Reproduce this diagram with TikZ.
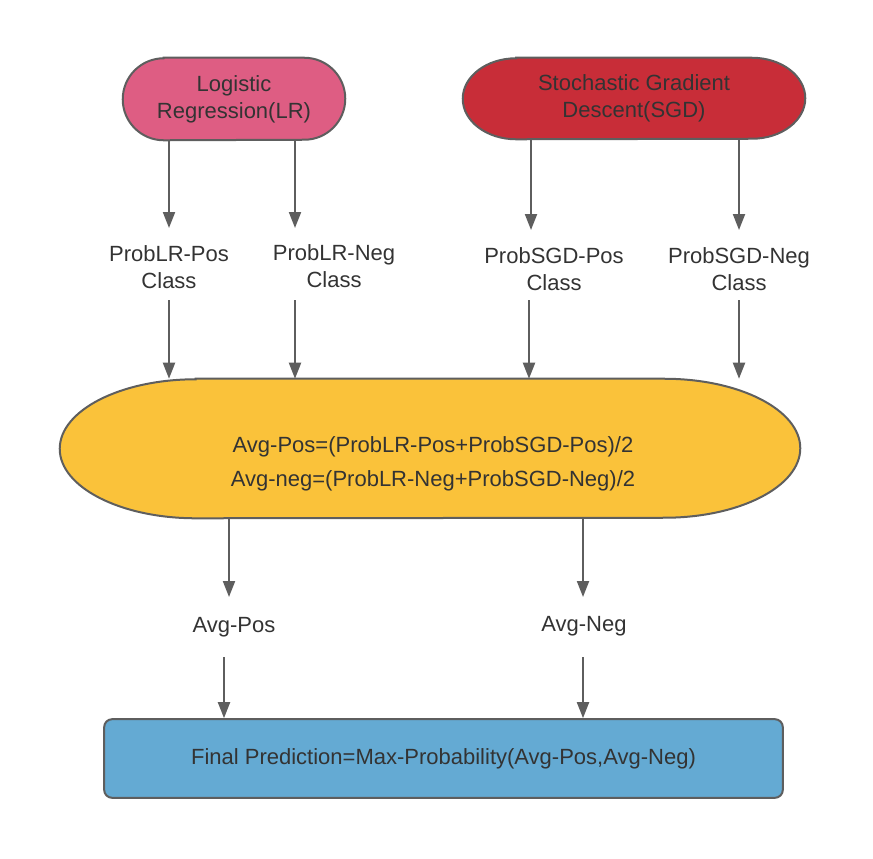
\documentclass[tikz,border=0pt]{standalone}
\usepackage{fontspec}
\setmainfont{Liberation Sans}
\definecolor{enPink}{HTML}{DE5D83}
\definecolor{enRed}{HTML}{C82D38}
\definecolor{enYellow}{HTML}{FAC23A}
\definecolor{enBlue}{HTML}{64AAD3}
\definecolor{enLine}{HTML}{5E5E5E}
\definecolor{enText}{HTML}{333333}
\usetikzlibrary{arrows.meta,backgrounds}

\tikzset{
  lbl/.style={font=\fontsize{16.5}{20}\selectfont, text=enText, align=center},
  arr/.style={enLine, line width=1.5pt, -{Triangle[length=12pt,width=9pt]}},
  outl/.style={draw=enLine, line width=1.5pt},
  pillbox/.style={inner sep=0pt, lbl},
}

% pill outline round a node: node, x radius, y radius, fill
\newcommand{\pill}[4]{%
  \path[outl, fill=#4] ([xshift=#2]#1.north west) -- ([xshift=-#2]#1.north east)
    arc[start angle=90, end angle=-90, x radius=#2, y radius=#3]
    -- ([xshift=#2]#1.south west)
    arc[start angle=270, end angle=90, x radius=#2, y radius=#3] -- cycle;
}

\begin{document}
\begin{tikzpicture}[x=0.75pt, y=-0.75pt]
  \useasboundingbox (0,0) rectangle (873,858);

  % Models
  \node[pillbox, minimum width=166.5pt, minimum height=61.5pt] (lr) at (234,99) {Logistic\\Regression(LR)};
  \node[pillbox, minimum width=256.5pt, minimum height=60.75pt] (sgd) at (634,98.5) {Stochastic Gradient\\Descent(SGD)};

  % Class probabilities
  \node[lbl] (lrpos) at (169,267) {ProbLR-Pos\\Class};
  \node[lbl] (lrneg) at (334,266) {ProbLR-Neg\\Class};
  \node[lbl] (sgdpos) at (554,269) {ProbSGD-Pos\\Class};
  \node[lbl] (sgdneg) at (739,269) {ProbSGD-Neg\\Class};

  % Averaging
  \node[pillbox, minimum width=555pt, minimum height=104.25pt] (avg) at (430,448.5) {};
  \node[lbl] (avgtext) at (433,464) {Avg-Pos=(ProbLR-Pos+ProbSGD-Pos)/2\\[5.5pt]
    Avg-neg=(ProbLR-Neg+ProbSGD-Neg)/2};

  \node[lbl] (avgpos) at (234,627) {Avg-Pos};
  \node[lbl] (avgneg) at (584,626) {Avg-Neg};

  % Final
  \node[lbl, outl, fill=enBlue, rounded corners=6pt, minimum width=509pt, minimum height=59pt] (final) at (443.5,758.5)
    {Final Prediction=Max-Probability(Avg-Pos,Avg-Neg)};

  \begin{pgfonlayer}{background}
    \pill{lr}{30.75pt}{30.75pt}{enPink}
    \pill{sgd}{40pt}{30.375pt}{enRed}
    \pill{avg}{102pt}{52.125pt}{enYellow}
  \end{pgfonlayer}

  % Arrow ends
  \coordinate (t1) at (169,228);
  \coordinate (t2) at (295,228);
  \coordinate (t3) at (531,230);
  \coordinate (t4) at (739,230);
  \coordinate (s1) at (169,300);
  \coordinate (s2) at (295,300);
  \coordinate (s3) at (529,300);
  \coordinate (s4) at (739,300);
  \coordinate (t5) at (229,597);
  \coordinate (t6) at (583,597);
  \coordinate (s5) at (224,657);
  \coordinate (s6) at (583,657);

  \draw[arr] (lr.south -| t1) -- (t1);
  \draw[arr] (lr.south -| t2) -- (t2);
  \draw[arr] (sgd.south -| t3) -- (t3);
  \draw[arr] (sgd.south -| t4) -- (t4);

  \draw[arr] (s1) -- (avg.north -| s1);
  \draw[arr] (s2) -- (avg.north -| s2);
  \draw[arr] (s3) -- (avg.north -| s3);
  \draw[arr] (s4) -- (avg.north -| s4);

  \draw[arr] (avg.south -| t5) -- (t5);
  \draw[arr] (avg.south -| t6) -- (t6);
  \draw[arr] (s5) -- (final.north -| s5);
  \draw[arr] (s6) -- (final.north -| s6);
\end{tikzpicture}
\end{document}
